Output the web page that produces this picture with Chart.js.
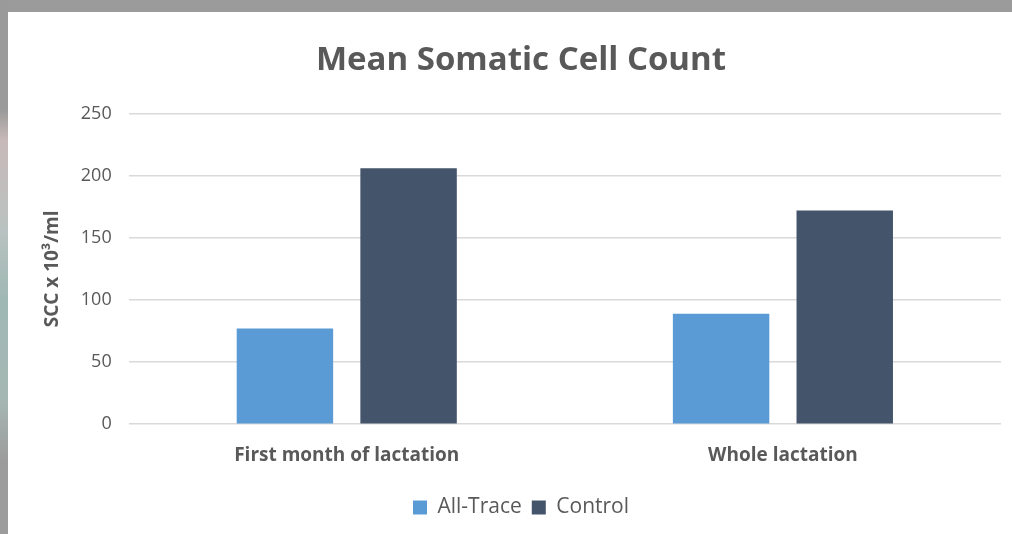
<!DOCTYPE html>
<html>
<head>
<meta charset="utf-8">
<script src="https://cdn.jsdelivr.net/npm/chart.js@4"></script>
<style>
  html, body { margin: 0; padding: 0; }
  body {
    width: 1012px; height: 534px; overflow: hidden; position: relative;
    background: #9b9b9b;
  }
  #strip {
    position: absolute; left: 0; top: 0; width: 8px; height: 534px;
    background: linear-gradient(to bottom, #9a9a9a 0px, #9a9a9a 110px, #c8b9b9 140px, #b9c2c0 230px, #9fb8b3 300px, #a5b7b3 400px, #9c9c9c 460px, #9c9c9c 534px);
  }
  #panel {
    position: absolute; left: 8px; top: 12px; width: 1004px; height: 522px; background: #ffffff;
  }
  canvas { display: block; }
</style>
</head>
<body>
<div id="strip"></div>
<div id="panel"><canvas id="c" width="1004" height="522"></canvas></div>
<script>
const categories = ["First month of lactation", "Whole lactation"];
const allTrace = [77, 89];
const control = [206, 172];
const yTicks = [0, 50, 100, 150, 200, 250];

const textColor = '#595959';
const fontFamily = "'Open Sans', 'Noto Sans', sans-serif";

new Chart(document.getElementById('c'), {
  type: 'bar',
  data: {
    labels: categories,
    datasets: [
      { label: 'All-Trace', data: allTrace, backgroundColor: '#5B9BD5', borderWidth: 0 },
      { label: 'Control', data: control, backgroundColor: '#44546A', borderWidth: 0 }
    ]
  },
  options: {
    responsive: false,
    animation: false,
    devicePixelRatio: 1,
    layout: { padding: { left: 33, right: 11, top: 0, bottom: 6 } },
    datasets: { bar: { categoryPercentage: 0.567, barPercentage: 0.78 } },
    plugins: {
      title: {
        display: true,
        text: 'Mean Somatic Cell Count',
        color: textColor,
        font: { family: fontFamily, size: 33, weight: 'bold' },
        padding: { top: 29, bottom: 33 }
      },
      legend: {
        position: 'bottom',
        labels: {
          color: textColor,
          font: { family: fontFamily, size: 21 },
          boxWidth: 14, boxHeight: 14, padding: 10
        }
      },
      tooltip: { enabled: false }
    },
    scales: {
      x: {
        grid: { display: false, drawTicks: false },
        border: { display: false },
        ticks: { color: textColor, font: { family: fontFamily, size: 19, weight: 'bold' }, padding: 20 }
      },
      y: {
        min: 0, max: 250,
        afterBuildTicks: (scale) => { scale.ticks = yTicks.map(v => ({ value: v })); },
        grid: { color: '#d9d9d9', lineWidth: 1.5, drawTicks: false },
        border: { display: false },
        ticks: { color: textColor, font: { family: fontFamily, size: 18 }, padding: 17 },
        title: {
          display: true, text: 'SCC x 10³/ml', color: textColor,
          font: { family: fontFamily, size: 19, weight: 'bold' }, padding: { top: 0, bottom: 0 }
        }
      }
    }
  }
});
</script>
</body>
</html>
